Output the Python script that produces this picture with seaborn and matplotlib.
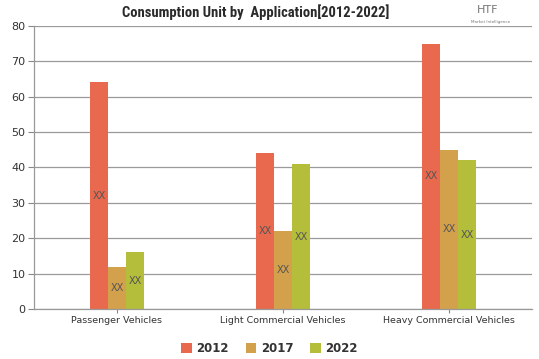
import matplotlib
matplotlib.use("Agg")
import matplotlib.pyplot as plt
import seaborn as sns
import pandas as pd
from matplotlib.patches import Patch

categories = ["Passenger Vehicles", "Light Commercial Vehicles", "Heavy Commercial Vehicles"]
years = ["2012", "2017", "2022"]
values_2012 = [64, 44, 75]
values_2017 = [12, 22, 45]
values_2022 = [16, 41, 42]
y_ticks = [0, 10, 20, 30, 40, 50, 60, 70, 80]
colors = ["#E9694E", "#D3A04B", "#B5BE3B"]

rows = []
for yr, vals in zip(years, [values_2012, values_2017, values_2022]):
    for c, v in zip(categories, vals):
        rows.append({"Application": c, "Year": yr, "Value": v})
df = pd.DataFrame(rows)

sns.set_theme(style="white")
plt.rcParams['font.family'] = ['DejaVu Sans']

fig = plt.figure(figsize=(5.39, 3.59), dpi=100)
ax = fig.add_axes([0.063, 0.139, 0.924, 0.789])

sns.barplot(data=df, x="Application", y="Value", hue="Year", order=categories,
            hue_order=years, palette=colors, width=0.325, saturation=1,
            edgecolor="none", linewidth=0, ax=ax, legend=False)

for cont in ax.containers:
    ax.bar_label(cont, labels=["XX"] * len(cont), label_type="center",
                 fontsize=7, color="#555555")

ax.set_ylim(0, 80)
ax.set_xlim(-0.5, 2.5)
ax.set_yticks(y_ticks)
ax.set_yticklabels([str(t) for t in y_ticks], fontsize=8, color="#333333")
ax.tick_params(axis="x", labelsize=6.8, colors="#333333", length=3, width=0.8,
               color="#888888", bottom=True, pad=2)
ax.tick_params(axis="y", length=4, width=0.8, color="#888888", left=True, pad=2)
ax.set_xlabel("")
ax.set_ylabel("")
ax.yaxis.grid(True, color="#9a9a9a", linewidth=0.9)
ax.set_axisbelow(True)
for s in ["top", "right"]:
    ax.spines[s].set_visible(False)
for s in ["left", "bottom"]:
    ax.spines[s].set_color("#999999")
    ax.spines[s].set_linewidth(0.9)

fig.text(0.474, 0.965, "Consumption Unit by  Application[2012-2022]",
         ha="center", va="center", fontsize=10.5, fontweight="bold",
         fontstretch="condensed", color="#2a2a2a",
         family=["Roboto Condensed", "Liberation Sans Narrow", "Liberation Sans", "DejaVu Sans"])
fig.text(0.905, 0.972, "HTF", ha="center", va="center", fontsize=8,
         color="#777777")
fig.text(0.91, 0.94, "Market Intelligence", ha="center", va="center",
         fontsize=3, color="#777777")

handles = [Patch(facecolor=c, edgecolor="none", label=y) for c, y in zip(colors, years)]
leg = fig.legend(handles=handles, loc="center", bbox_to_anchor=(0.5, 0.028),
                 ncol=3, frameon=False, handlelength=0.9, handleheight=0.9,
                 handletextpad=0.4, columnspacing=1.4,
                 prop={"size": 8.5, "weight": "bold"})
for t in leg.get_texts():
    t.set_color("#333333")

fig.savefig("out.png", dpi=100)
